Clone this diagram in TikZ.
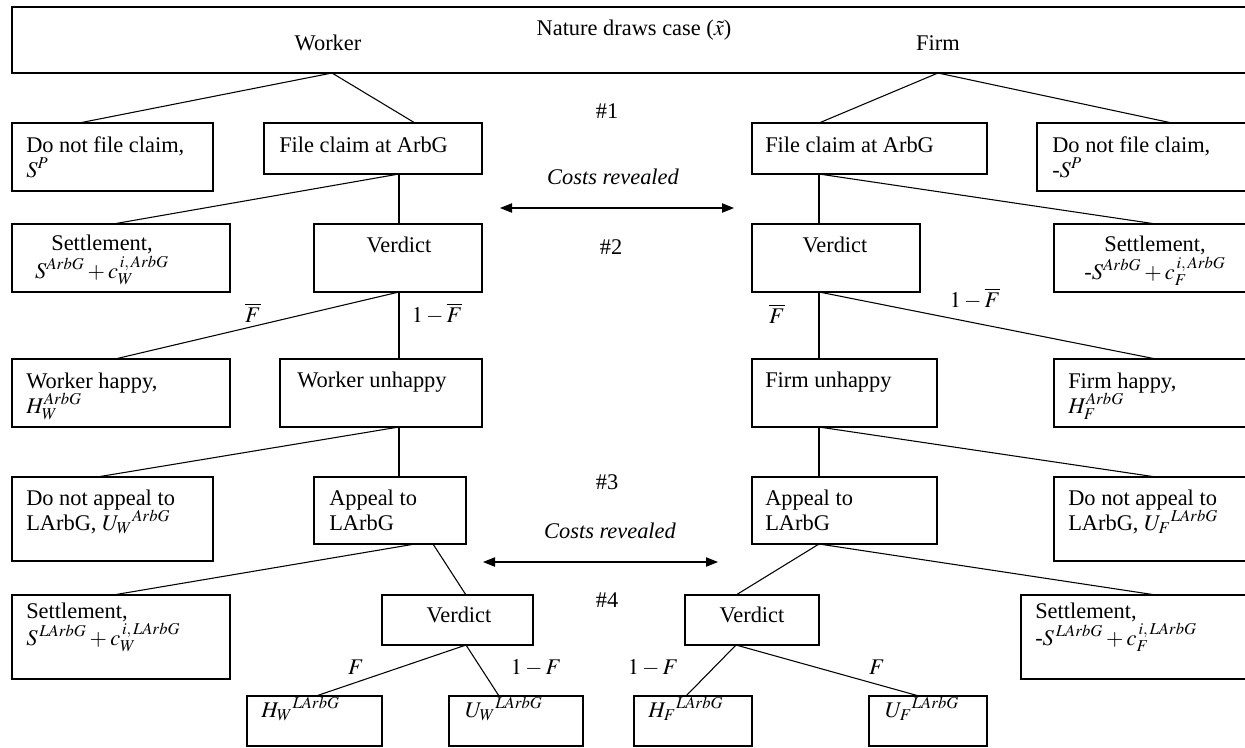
\documentclass[tikz,border=0pt]{standalone}
\usepackage{mathptmx}
\usepackage{fontspec}
\setmainfont{Liberation Serif}
\usetikzlibrary{calc,arrows.meta}
\def\gbox(#1)(#2,#3)(#4,#5){\node[box, minimum width={(#4-#2)*0.75pt}, minimum height={(#5-#3)*0.75pt}] (#1) at ({(#2+#4)/2},{(#3+#5)/2}) {};}

\begin{document}
\begin{tikzpicture}[x=0.75pt, y=-0.75pt,
	every node/.style={font=\fontsize{16.8}{18.75}\selectfont},
	box/.style={draw, line width=0.8pt, inner sep=0pt, outer sep=0pt},
	txt/.style={inner sep=0pt, align=left, anchor=base west},
	mid/.style={inner sep=0pt, anchor=base},
	tight/.style={font=\fontsize{16.8}{18}\selectfont},
	branch/.style={line width=0.8pt},
	reveal/.style={line width=0.8pt, {Triangle[length=9pt,width=7pt]}-{Triangle[length=9pt,width=7pt]}}]
			%%%%% START %%%%%
			\useasboundingbox (0,0) rectangle (1245,747);
			\clip (0,0) rectangle (1245,747);
			
			% nature
			\gbox(nature)(12,7)(1260,73)
			\node[mid] (naturet) at (634,35) {Nature draws case ($\tilde{x}$)};
			\node[mid] (workert) at (328,50) {Worker};
			\node[mid] (firmt) at (938,50) {Firm};
			
			% stage 1 (two-line texts sit on their last baseline)
			\gbox(dnfW)(12,123)(213,191)
			\gbox(fcW)(264,123)(482,174)
			\gbox(fcF)(752,123)(987,174)
			\gbox(dnfF)(1037,123)(1260,191)
			\node[txt] (dnfWt) at (26,177) {Do not file claim,\\$S^P$};
			\node[txt] (fcWt) at (279,152) {File claim at ArbG};
			\node[txt] (fcFt) at (765,152) {File claim at ArbG};
			\node[txt] (dnfFt) at (1052,177) {Do not file claim,\\-$S^P$};
			\node[mid] (n1) at (607,118) {\#1};
			
			\node[mid, font=\fontsize{16.8}{18.75}\selectfont\itshape] (cr1) at (613,184) {Costs revealed};
			\coordinate (cr1L) at (500,208);
			\coordinate (cr1R) at (734,208);
			\draw[reveal] (cr1L) -- (cr1R);
			
			% stage 2
			\gbox(setW)(12,224)(230,292)
			\gbox(verW)(314,224)(482,292)
			\gbox(verF)(752,224)(920,292)
			\gbox(setF)(1054,224)(1260,292)
			\node[mid, tight, align=center] (setWt) at (102,278) {Settlement,\\[3pt]\smash{$S^{ArbG}+c_W^{\,i,\,ArbG}$}};
			\node[mid] (verWt) at (399,252) {Verdict};
			\node[mid] (verFt) at (835,252) {Verdict};
			\node[mid, tight, align=center] (setFt) at (1155,279) {Settlement,\\[3pt]\smash{-$S^{ArbG}+c_F^{\,i,\,ArbG}$}};
			\node[mid] (n2) at (611,254) {\#2};
			
			\node[mid] (pW1) at (253,322) {$\overline{F}$};
			\node[mid] (qW1) at (437,322) {$1-\overline{F}$};
			\node[mid] (pF1) at (777,323) {$\overline{F}$};
			\node[mid] (qF1) at (975,307) {$1-\overline{F}$};
			
			% happy or not
			\gbox(hapW)(12,359)(230,427)
			\gbox(unhW)(280,359)(482,427)
			\gbox(unhF)(752,359)(937,427)
			\gbox(hapF)(1054,359)(1260,427)
			\node[txt] (hapWt) at (26,413) {Worker happy,\\$H_W^{ArbG}$};
			\node[txt] (unhWt) at (297,387) {Worker unhappy};
			\node[txt] (unhFt) at (765,387) {Firm unhappy};
			\node[txt] (hapFt) at (1068,413) {Firm happy,\\$H_F^{ArbG}$};
			
			% stage 3
			\gbox(dnaW)(12,477)(213,561)
			\gbox(appW)(314,477)(466,544)
			\gbox(appF)(752,477)(937,544)
			\gbox(dnaF)(1054,477)(1260,561)
			\node[txt] (dnaWt) at (26,530) {Do not appeal to\\LArbG, $U_W{}^{ArbG}$};
			\node[txt] (appWt) at (329,530) {Appeal to\\LArbG};
			\node[txt] (appFt) at (765,530) {Appeal to\\LArbG};
			\node[txt] (dnaFt) at (1068,530) {Do not appeal to\\LArbG, $U_F{}^{LArbG}$};
			\node[mid] (n3) at (607,489) {\#3};
			
			\node[mid, font=\fontsize{16.8}{18.75}\selectfont\itshape] (cr2) at (610,538) {Costs revealed};
			\coordinate (cr2L) at (483,562);
			\coordinate (cr2R) at (718,562);
			\draw[reveal] (cr2L) -- (cr2R);
			
			% stage 4
			\gbox(setW2)(12,595)(230,679)
			\gbox(verW2)(382,595)(533,645)
			\gbox(verF2)(685,595)(819,645)
			\gbox(setF2)(1021,595)(1260,679)
			\node[txt, tight] (setW2t) at (26,645) {Settlement,\\[2pt]\smash{$S^{\,LArbG}+c_W^{\,i,\,LArbG}$}};
			\node[mid] (verW2t) at (459,622) {Verdict};
			\node[mid] (verF2t) at (752,622) {Verdict};
			\node[txt, tight] (setF2t) at (1035,645) {Settlement,\\[2pt]\smash{-$S^{\,LArbG}+c_F^{\,i,\,LArbG}$}};
			\node[mid] (n4) at (607,607) {\#4};
			
			\node[mid] (pW2) at (356,674) {$F$};
			\node[mid] (qW2) at (536,674) {$1-F$};
			\node[mid] (qF2) at (653,674) {$1-F$};
			\node[mid] (pF2) at (877,674) {$F$};
			
			% payoffs
			\gbox(hW)(247,696)(382,746)
			\gbox(uW)(449,696)(583,746)
			\gbox(hF)(634,696)(752,746)
			\gbox(uF)(869,696)(987,746)
			\node[txt] (hWt) at (261,717) {$H_W{}^{LArbG}$};
			\node[txt] (uWt) at (465,717) {$U_W{}^{LArbG}$};
			\node[txt] (hFt) at (648,717) {$H_F{}^{LArbG}$};
			\node[txt] (uFt) at (885,717) {$U_F{}^{LArbG}$};
			
			% branches
			\draw[branch] ($(nature.south west)+(320,0)$) -- ($(dnfW.north west)+(67,0)$);
			\draw[branch] ($(nature.south west)+(320,0)$) -- ($(fcW.north west)+(151,0)$);
			\draw[branch] ($(nature.south west)+(926,0)$) -- ($(fcF.north west)+(67,0)$);
			\draw[branch] ($(nature.south west)+(926,0)$) -- ($(dnfF.north west)+(135,0)$);
			
			\draw[branch] ($(fcW.south west)+(135,0)$) -- ($(setW.north west)+(101,0)$);
			\draw[branch] ($(fcW.south west)+(135,0)$) -- ($(verW.north west)+(85,0)$);
			\draw[branch] ($(fcF.south west)+(67,0)$) -- ($(verF.north west)+(67,0)$);
			\draw[branch] ($(fcF.south west)+(67,0)$) -- ($(setF.north west)+(102,0)$);
			
			\draw[branch] ($(verW.south west)+(85,0)$) -- ($(hapW.north west)+(103,0)$);
			\draw[branch] ($(verW.south west)+(85,0)$) -- ($(unhW.north west)+(119,0)$);
			\draw[branch] ($(verF.south west)+(67,0)$) -- ($(unhF.north west)+(67,0)$);
			\draw[branch] ($(verF.south west)+(67,0)$) -- ($(hapF.north west)+(102,0)$);
			
			\draw[branch] ($(unhW.south west)+(119,0)$) -- ($(dnaW.north west)+(85,0)$);
			\draw[branch] ($(unhW.south west)+(119,0)$) -- ($(appW.north west)+(85,0)$);
			\draw[branch] ($(unhF.south west)+(67,0)$) -- ($(appF.north west)+(67,0)$);
			\draw[branch] ($(unhF.south west)+(67,0)$) -- ($(dnaF.north west)+(102,0)$);
			
			\draw[branch] ($(appW.south west)+(101,0)$) -- ($(setW2.north west)+(101,0)$);
			\draw[branch] ($(appW.south west)+(119,0)$) -- ($(verW2.north west)+(84,0)$);
			\draw[branch] ($(appF.south west)+(67,0)$) -- ($(verF2.north west)+(51,0)$);
			\draw[branch] ($(appF.south west)+(67,0)$) -- ($(setF2.north west)+(135,0)$);
			
			\draw[branch] ($(verW2.south west)+(84,0)$) -- ($(hW.north west)+(69,0)$);
			\draw[branch] ($(verW2.south west)+(84,0)$) -- ($(uW.north west)+(50,0)$);
			\draw[branch] ($(verF2.south west)+(51,0)$) -- ($(hF.north west)+(52,0)$);
			\draw[branch] ($(verF2.south west)+(51,0)$) -- ($(uF.north west)+(50,0)$);
			%%%%% END %%%%%
\end{tikzpicture}
\end{document}
